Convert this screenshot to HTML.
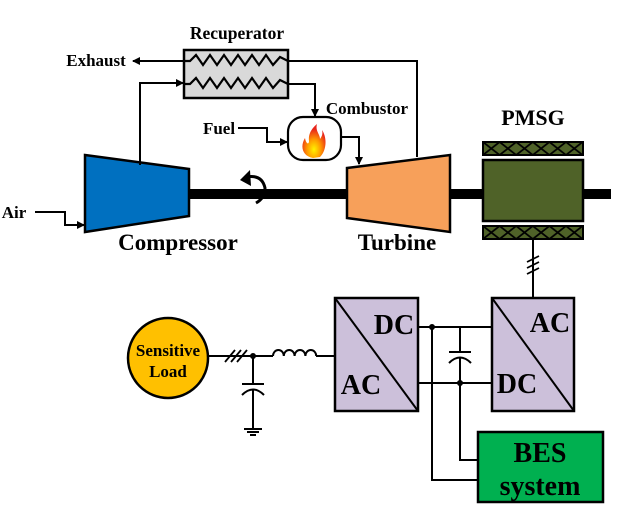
<!DOCTYPE html>
<html><head><meta charset="utf-8"><style>
html,body{margin:0;padding:0;background:#fff;}
svg{display:block;}
text{font-family:"Liberation Serif",serif;font-weight:bold;fill:#000;}
</style></head><body>
<svg width="618" height="509" viewBox="0 0 618 509" xmlns="http://www.w3.org/2000/svg">
<defs>
<marker id="ar" markerWidth="8" markerHeight="8" refX="7" refY="4" orient="auto" markerUnits="userSpaceOnUse">
<path d="M0,0 L8,4 L0,8 z" fill="#000"/></marker>
<pattern id="hx" width="16.6" height="13" patternUnits="userSpaceOnUse" x="483" y="142">
<rect width="16.6" height="13" fill="#4f6228"/>
<path d="M0,0 L16.6,13 M16.6,0 L0,13" stroke="#000" stroke-width="1.8"/></pattern>
<pattern id="hx2" width="16.6" height="13" patternUnits="userSpaceOnUse" x="483" y="226">
<rect width="16.6" height="13" fill="#4f6228"/>
<path d="M0,0 L16.6,13 M16.6,0 L0,13" stroke="#000" stroke-width="1.8"/></pattern>
<radialGradient id="fl" cx="0.5" cy="0.75" r="0.6">
<stop offset="0" stop-color="#fff200"/><stop offset="0.5" stop-color="#ff9900"/><stop offset="1" stop-color="#e8251b"/></radialGradient>
</defs>
<g stroke="#000" stroke-width="2" fill="none">
<rect x="188" y="189" width="160" height="10" fill="#000" stroke="none"/>
<rect x="449" y="189" width="35" height="10" fill="#000" stroke="none"/>
<rect x="582" y="189" width="29" height="10" fill="#000" stroke="none"/>
<polygon points="85,155 189,169 189,216 85,232" fill="#0070c0" stroke-width="2.5"/>
<polygon points="347,168 450,155 450,232 347,218" fill="#f7a05a" stroke-width="2.5"/>
<rect x="184" y="50" width="104" height="48" fill="#d9d9d9" stroke-width="2.5"/>
<polyline points="184,61 190,61 196,55 203,65 210,55 217,65 224,55 231,65 238,55 245,65 252,55 259,65 266,55 273,65 280,57 288,61" stroke-width="2.2"/>
<polyline points="184,84 190,84 196,78 203,88 210,78 217,88 224,78 231,88 238,78 245,88 252,78 259,88 266,78 273,88 280,80 288,84" stroke-width="2.2"/>
<line x1="184" y1="61" x2="133" y2="61" marker-end="url(#ar)"/>
<polyline points="288,61 417,61 417,157"/>
<polyline points="140,165 140,83 183,83" marker-end="url(#ar)"/>
<polyline points="288,84 315,84 315,116" marker-end="url(#ar)"/>
<rect x="288" y="117" width="53" height="43" rx="15" fill="#fff" stroke-width="2.2"/>
<polyline points="238,128 267,128 267,142 287,142" marker-end="url(#ar)"/>
<polyline points="341,137 359,137 359,164" marker-end="url(#ar)"/>
<polyline points="35,212 65,212 65,225 84,225" marker-end="url(#ar)"/>
<path d="M246,177 Q262,174 265,188 Q265,198 256,203" stroke-width="3"/>
<path d="M240,180 L250,170 L251,186 z" fill="#000" stroke="none"/>
<rect x="483" y="142" width="100" height="13" fill="url(#hx)"/>
<rect x="483" y="160" width="100" height="61" fill="#4f6228" stroke-width="2.5"/>
<rect x="483" y="226" width="100" height="13" fill="url(#hx2)"/>
<line x1="533" y1="239" x2="533" y2="298"/>
<path d="M527,262 L539,256 M527,268 L539,262 M527,274 L539,268" stroke-width="1.8"/>
<rect x="335" y="298" width="83" height="113" fill="#ccc0da" stroke-width="2.5"/>
<line x1="335" y1="298" x2="418" y2="411"/>
<rect x="492" y="298" width="82" height="113" fill="#ccc0da" stroke-width="2.5"/>
<line x1="492" y1="298" x2="574" y2="411"/>
<line x1="418" y1="327" x2="492" y2="327"/>
<line x1="418" y1="383" x2="492" y2="383"/>
<polyline points="432,327 432,480 478,480"/>
<polyline points="460,327 460,352"/>
<line x1="449" y1="352" x2="471" y2="352"/>
<path d="M449,363 Q460,352 471,363"/>
<polyline points="460,358 460,460 478,460"/>
<line x1="209" y1="356" x2="273" y2="356"/>
<path d="M225,362 L235,350 M231,362 L241,350 M237,362 L247,350" stroke-width="1.8"/>
<path d="M273,356 a5.4,6 0 0 1 10.8,0 a5.4,6 0 0 1 10.8,0 a5.4,6 0 0 1 10.8,0 a5.4,6 0 0 1 10.8,0"/>
<line x1="316" y1="356" x2="335" y2="356"/>
<line x1="253" y1="356" x2="253" y2="384"/>
<line x1="242" y1="384" x2="264" y2="384"/>
<path d="M242,395 Q253,384 264,395"/>
<line x1="253" y1="390" x2="253" y2="429"/>
<line x1="244" y1="429" x2="262" y2="429"/>
<line x1="247" y1="432" x2="259" y2="432"/>
<line x1="250" y1="435" x2="256" y2="435"/>
<circle cx="168" cy="358" r="40" fill="#ffc000" stroke-width="2.5"/>
<rect x="478" y="432" width="125" height="70" fill="#00b050" stroke-width="2.5"/>
</g>
<circle cx="253" cy="356" r="3" fill="#000"/>
<circle cx="432" cy="327" r="3" fill="#000"/>
<circle cx="460" cy="383" r="3" fill="#000"/>
<path d="M313,158 C302,156 300,146 305,138 C306,144 309,145 309,141 C308,134 312,128 317,124 C315,131 320,134 320,139 C322,136 323,134 322,130 C327,137 327,150 320,157 Z" fill="url(#fl)"/>
<text x="96" y="66" font-size="17" text-anchor="middle">Exhaust</text>
<text x="237" y="39" font-size="17.5" text-anchor="middle">Recuperator</text>
<text x="367" y="114" font-size="17" text-anchor="middle">Combustor</text>
<text x="219" y="134" font-size="17" text-anchor="middle">Fuel</text>
<text x="14" y="218" font-size="17" text-anchor="middle">Air</text>
<text x="178" y="250" font-size="23" text-anchor="middle">Compressor</text>
<text x="397" y="250" font-size="23" text-anchor="middle">Turbine</text>
<text x="533" y="125" font-size="22" text-anchor="middle">PMSG</text>
<text x="168" y="356" font-size="17" text-anchor="middle">Sensitive</text>
<text x="168" y="377" font-size="17" text-anchor="middle">Load</text>
<text x="394" y="334" font-size="28" text-anchor="middle">DC</text>
<text x="361" y="394" font-size="28" text-anchor="middle">AC</text>
<text x="550" y="332" font-size="28" text-anchor="middle">AC</text>
<text x="517" y="393" font-size="28" text-anchor="middle">DC</text>
<text x="540" y="462" font-size="28" text-anchor="middle">BES</text>
<text x="540" y="495" font-size="28" text-anchor="middle">system</text>
</svg>
</body></html>
